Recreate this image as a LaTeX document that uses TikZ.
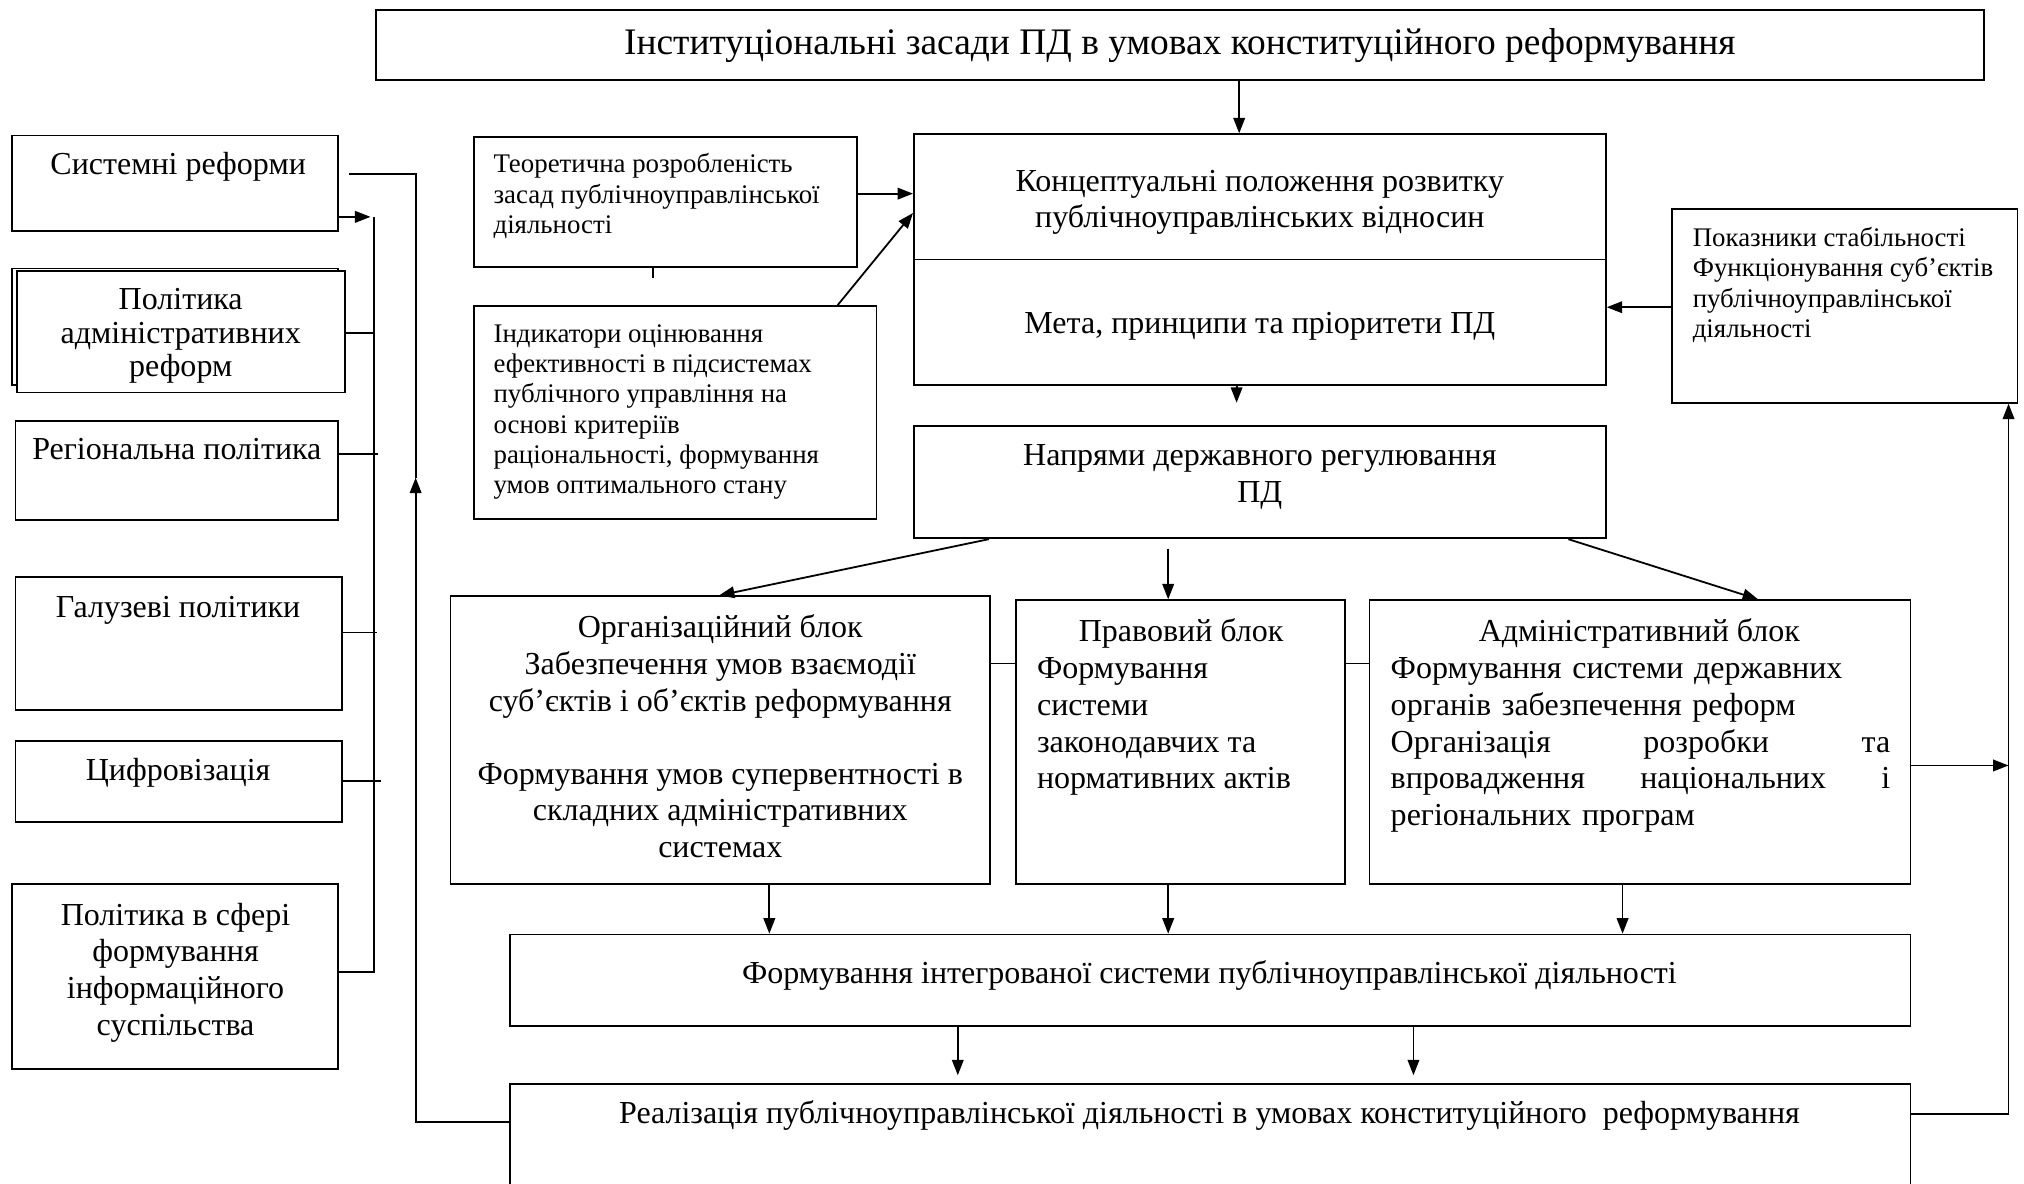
\documentclass[tikz,border=0pt]{standalone}
\usepackage{fontspec}
\setmainfont{Liberation Serif}
\usetikzlibrary{arrows.meta,fit}

\newcommand\bigsz{\fontsize{12.4pt}{14.2pt}\selectfont}
\newcommand\titlesz{\fontsize{14.5pt}{16.6pt}\selectfont}
\newcommand\smallsz{\fontsize{10.4pt}{11.75pt}\selectfont}
% a line spread over the full width of the administrative block
\newcommand\spreadline[1]{\makebox[193.5pt]{#1}}

% multi-line labels without a text width are placed by the baseline of their last line
\tikzset{
  box/.style={draw, line width=0.7pt, inner sep=0pt},
  lbl/.style={inner sep=0pt, font=\bigsz, align=center, anchor=base},
  lbll/.style={inner sep=0pt, font=\bigsz, align=left, anchor=base west},
  note/.style={inner sep=0pt, font=\smallsz, align=left, anchor=base west},
  conn/.style={line width=0.7pt},
  arr/.style={conn, -{Triangle[length=6pt,width=4.5pt]}},
}

\begin{document}
\begin{tikzpicture}[x=0.5pt, y=-0.5pt]
\path[use as bounding box] (0,0) rectangle (1568,917);
\clip (0,0) rectangle (1568,917);

% ---------- boxes ----------
\node[box, fit={(291,8)(1537,62)}]    (title) {};
\node[box, fit={(708,104)(1244,298)}] (konts) {};
\draw[conn] (konts.west |- 0,201) -- (konts.east |- 0,201);
\node[box, fit={(708,330)(1244,417)}] (napr)  {};
\node[box, fit={(367,106)(664,207)}]  (teor)  {};
\node[box, fit={(367,237)(679,402)}]  (indyk) {};
\node[box, fit={(1295,162)(1563,312)}] (pokaz) {};
\node[box, fit={(349,462)(767,685)}]  (org)   {};
\node[box, fit={(787,465)(1042,685)}] (prav)  {};
\node[box, fit={(1061,465)(1480,685)}] (adm)  {};
\node[box, fit={(395,724)(1480,795)}] (form)  {};
\node[box, fit={(395,840)(1480,940)}] (real)  {};

\node[box, fit={(9,105)(262,179)}]    (sys)   {};
\node[box, fit={(9,208)(262,298)}]    (padmb) {};
\node[box, fill=white, fit={(13,210)(267,304)}] (padm) {};
\node[box, fit={(12,326)(262,403)}]   (reg)   {};
\node[box, fit={(12,447)(265,550)}]   (galuz) {};
\node[box, fit={(12,574)(265,637)}]   (tsyfr) {};
\node[box, fit={(9,685)(262,828)}]    (pinfo) {};

% ---------- texts ----------
\node[lbl, font=\titlesz] (title-t) at (914,42) {Інституціональні засади ПД в умовах конституційного реформування};
\node[lbl] (konts-t) at (976,176.4) {Концептуальні положення розвитку\\публічноуправлінських відносин};
\node[lbl] (meta-t)  at (976,258) {Мета, принципи та пріоритети ПД};
\node[lbl] (napr-t)  at (976,389.4) {Напрями державного регулювання\\ПД};
\node[note] (teor-t) at (382,181) {Теоретична розробленість\\засад публічноуправлінської\\діяльності};
\node[note] (indyk-t) at (382,382.5) {Індикатори оцінювання\\ефективності в підсистемах\\публічного управління на\\основі критеріїв\\раціональності, формування\\умов оптимального стану};
\node[note] (pokaz-t) at (1311,261.5) {Показники стабільності\\Функціонування суб’єктів\\публічноуправлінської\\діяльності};

\node[lbl] (org-t) at (558,664.4) {Організаційний блок\\Забезпечення умов взаємодії\\суб’єктів і об’єктів реформування\\[14.2pt]Формування умов супервентності в\\складних адміністративних\\системах};
\node[lbl] (prav-h) at (915,497) {Правовий блок};
\node[lbll] (prav-t) at (803,611.2) {Формування\\системи\\законодавчих та\\нормативних актів};
\node[lbl] (adm-h) at (1270,497) {Адміністративний блок};
% with a text width the baseline is that of the first line
\node[lbll, text width=193.5pt] (adm-t) at (1077,526) {Формування системи державних\\органів забезпечення реформ\\\spreadline{Організація\hfill розробки\hfill та}\\\spreadline{впровадження\hfill національних\hfill і}\\регіональних програм};

\node[lbl] (form-t) at (937,762) {Формування інтегрованої системи публічноуправлінської діяльності};
\node[lbl] (real-t) at (937,870) {Реалізація публічноуправлінської діяльності в умовах конституційного\ \ реформування};

\node[lbl] (sys-t)   at (138,135) {Системні реформи};
\node[lbl] (padm-t)  at (140,292) {Політика\\[-1.2pt]адміністративних\\[-1.2pt]реформ};
\node[lbl] (reg-t)   at (137,356) {Регіональна політика};
\node[lbl] (galuz-t) at (138,478) {Галузеві політики};
\node[lbl] (tsyfr-t) at (138,605) {Цифровізація};
\node[lbl] (pinfo-t) at (136,802) {Політика в сфері\\формування\\інформаційного\\суспільства};

% ---------- guide columns and rows ----------
\coordinate (cTitle) at (960,0);
\coordinate (cKn)    at (958,0);
\coordinate (cMid)   at (905,0);
\coordinate (cNL)    at (766,0);
\coordinate (cOrgIn) at (557,0);
\coordinate (cNR)    at (1215,0);
\coordinate (cAdmIn) at (1362,0);
\coordinate (cOrgOut) at (596,0);
\coordinate (cAdmOut) at (1257,0);
\coordinate (cF1)    at (742,0);
\coordinate (cF2)    at (1095,0);
\coordinate (cTick)  at (506,0);
\coordinate (cInd)   at (649,0);
\coordinate (cL)     at (322,0);
\coordinate (cR)     at (1556,0);
\coordinate (cM)     at (290,0);
\coordinate (rTeor)  at (0,150);
\coordinate (rInd)   at (0,165);
\coordinate (rPok)   at (0,238);
\coordinate (rBlk)   at (0,514);
\coordinate (rAdm)   at (0,593);
\coordinate (rRealR) at (0,863);
\coordinate (rRealL) at (0,869);
\coordinate (rSys)   at (0,135);
\coordinate (rSysIn) at (0,168);
\coordinate (rPadm)  at (0,258);
\coordinate (rReg)   at (0,352);
\coordinate (rGal)   at (0,490);
\coordinate (rTsy)   at (0,605);
\coordinate (rPinfo) at (0,753);

% free ends
\coordinate (knEnd) at (958,312);
\coordinate (npStart) at (905,425);
\coordinate (f1End) at (742,833);
\coordinate (f2End) at (1095,833);
\coordinate (lMid)  at (322,370);

% ---------- connectors ----------
\draw[arr] (title.south -| cTitle) -- (konts.north -| cTitle);
\draw[arr] (konts.south -| cKn) -- (knEnd);
\draw[arr] (teor.east |- rTeor) -- (konts.west |- rTeor);
\draw[conn] (teor.south -| cTick) -- ++(0,8);
\draw[arr] (indyk.north -| cInd) -- (konts.west |- rInd);
\draw[arr] (pokaz.west |- rPok) -- (konts.east |- rPok);

\draw[arr] (napr.south -| cNL) -- (org.north -| cOrgIn);
\draw[arr] (npStart) -- (prav.north -| cMid);
\draw[arr] (napr.south -| cNR) -- (adm.north -| cAdmIn);

\draw[conn] (org.east |- rBlk) -- (prav.west |- rBlk);
\draw[conn] (prav.east |- rBlk) -- (adm.west |- rBlk);

\draw[arr] (org.south -| cOrgOut) -- (form.north -| cOrgOut);
\draw[arr] (prav.south -| cMid) -- (form.north -| cMid);
\draw[arr] (adm.south -| cAdmOut) -- (form.north -| cAdmOut);
\draw[arr] (form.south -| cF1) -- (f1End);
\draw[arr] (form.south -| cF2) -- (f2End);

% right feedback loop
\draw[arr] (adm.east |- rAdm) -- (cR |- rAdm);
\draw[arr] (real.east |- rRealR) -| (pokaz.south -| cR);

% left feedback loop
\draw[arr] (real.west |- rRealL) -| (lMid);
\draw[conn, shorten >=4pt] (lMid) |- (sys.east |- rSys);

% collector of the policy boxes
\draw[arr, shorten >=1.5pt] (sys.east |- rSysIn) -- (cM |- rSysIn);
\draw[conn] (cM |- rSysIn) -- (cM |- rPinfo) -- (pinfo.east |- rPinfo);
\draw[conn] (padm.east |- rPadm) -- (cM |- rPadm);
\draw[conn] (reg.east |- rReg) -- ([xshift=1.5pt]cM |- rReg);
\draw[conn] (galuz.east |- rGal) -- ([xshift=1pt]cM |- rGal);
\draw[conn] (tsyfr.east |- rTsy) -- ([xshift=2.5pt]cM |- rTsy);
\end{tikzpicture}
\end{document}
